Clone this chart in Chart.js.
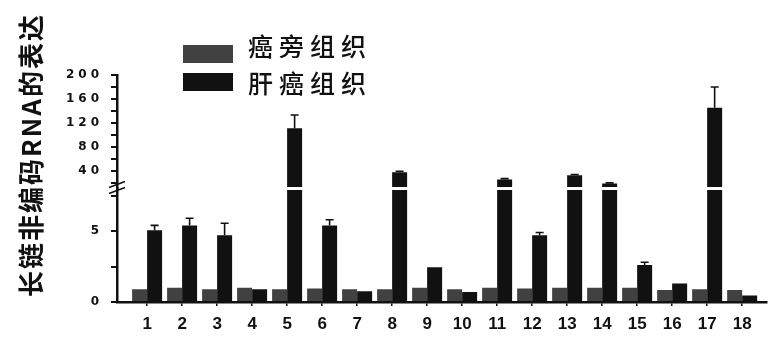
<!DOCTYPE html>
<html>
<head>
<meta charset="utf-8">
<script src="https://cdn.jsdelivr.net/npm/chart.js@4.4.0/dist/chart.umd.min.js"></script>
<style>
  html, body { margin: 0; padding: 0; background: #ffffff; }
  #wrap { width: 773px; height: 354px; }
</style>
</head>
<body>
<div id="wrap"><canvas id="chart" width="773" height="354"></canvas></div>
<script>
// Sample numbers shown on the x axis
const categories = ['1','2','3','4','5','6','7','8','9','10','11','12','13','14','15','16','17','18'];

// Series names (legend)
const seriesNames = ['癌旁组织', '肝癌组织'];

// Relative expression, adjacent non-tumour tissue
const adjacentTissue = [0.9, 1.0, 0.9, 1.0, 0.9, 0.95, 0.9, 0.9, 1.0, 0.9, 1.0, 0.95, 1.0, 1.0, 1.0, 0.85, 0.9, 0.85];
// Relative expression, liver cancer tissue
const tumorTissue = [5.05, 5.4, 4.7, 0.9, 111, 5.4, 0.75, 37, 2.45, 0.7, 25, 4.7, 32, 18.5, 2.6, 1.3, 145, 0.45];
// Upper error (SD) of the liver cancer series
const tumorError = [0.35, 0.5, 0.85, 0, 22, 0.4, 0, 2, 0, 0, 1.5, 0.2, 1.5, 1, 0.2, 0, 35, 0];

// Broken y axis: lower segment 0–8, upper segment 10–200
const lowerRange = [0, 8];
const upperRange = [10, 200];
const lowerTicks = [0, 2.5, 5, 7.5];
const lowerTickLabels = [0, 5];
const upperTicks = [20, 40, 60, 80, 100, 120, 140, 160, 180, 200];
const upperTickLabels = [40, 80, 120, 160, 200];

const axisTitle = '长链非编码RNA的表达';

const COLORS = ['#414141', '#111111'];
const INK = '#111111';

// Portions of each bar that fall in the lower and the upper segment
const lowerPart = vals => vals.map(v => Math.min(v, lowerRange[1]));
const upperPart = vals => vals.map(v => (v > upperRange[0] ? [upperRange[0], v] : null));

const barCommon = { borderWidth: 0, categoryPercentage: 0.857, barPercentage: 1.0 };

const datasets = [
  Object.assign({ label: seriesNames[0], data: lowerPart(adjacentTissue), yAxisID: 'yLow', stack: 'adj', backgroundColor: COLORS[0] }, barCommon),
  Object.assign({ label: seriesNames[1], data: lowerPart(tumorTissue), yAxisID: 'yLow', stack: 'tum', backgroundColor: COLORS[1] }, barCommon),
  Object.assign({ label: seriesNames[0], data: upperPart(adjacentTissue), yAxisID: 'yHigh', stack: 'adj', backgroundColor: COLORS[0] }, barCommon),
  Object.assign({ label: seriesNames[1], data: upperPart(tumorTissue), yAxisID: 'yHigh', stack: 'tum', backgroundColor: COLORS[1] }, barCommon)
];

function yScaleOptions(range, tickValues, labelValues) {
  return {
    type: 'linear',
    position: 'left',
    stack: 'yaxis',
    stackWeight: 1,
    stacked: false,
    min: range[0],
    max: range[1],
    afterBuildTicks: s => { s.ticks = tickValues.map(v => ({ value: v })); },
    afterFit: s => { s.width = 70; },
    ticks: {
      autoSkip: false,
      padding: 8,
      color: INK,
      font: { family: 'DejaVu Sans', size: 12, weight: 'bold' },
      callback: v => (labelValues.includes(v) ? String(v) : '')
    },
    grid: { drawOnChartArea: false, drawTicks: true, tickLength: 6, color: INK, lineWidth: 2 },
    border: { display: true, color: INK, width: 2.5 }
  };
}

// Wider letter spacing for the y tick numbers
const spacedYLabels = {
  id: 'spacedYLabels',
  beforeDraw(chart) {
    ['yLow', 'yHigh'].forEach(id => {
      const s = chart.scales[id];
      if (s && !s.__spaced) {
        const orig = s.drawLabels;
        s.drawLabels = function (area) {
          const ctx = this.ctx;
          ctx.save();
          ctx.letterSpacing = '4px';
          orig.call(this, area);
          ctx.restore();
        };
        s.__spaced = true;
      }
    });
  }
};

// Axis break, error bars, legend and y title
const breakAndErrors = {
  id: 'breakAndErrors',
  afterDatasetsDraw(chart) {
    const ctx = chart.ctx;
    const area = chart.chartArea;
    const low = chart.scales.yLow;
    const high = chart.scales.yHigh;
    const yb = low.top;

    // white gap through the bars at the break
    ctx.save();
    ctx.fillStyle = '#ffffff';
    ctx.fillRect(area.left + 2, yb - 1.5, area.right - area.left, 3);
    ctx.restore();

    // error bars on the cancer series
    const meta = chart.getDatasetMeta(1);
    ctx.save();
    ctx.strokeStyle = INK;
    ctx.lineWidth = 1.6;
    tumorTissue.forEach((v, i) => {
      const e = tumorError[i];
      if (!e) return;
      const scale = v > lowerRange[1] ? high : low;
      const x = meta.data[i].x;
      const y1 = scale.getPixelForValue(v);
      const y2 = scale.getPixelForValue(v + e);
      ctx.beginPath();
      ctx.moveTo(x, y1);
      ctx.lineTo(x, y2);
      ctx.moveTo(x - 4, y2);
      ctx.lineTo(x + 4, y2);
      ctx.stroke();
    });
    ctx.restore();

    // break marks on the y axis
    const ax = area.left;
    ctx.save();
    ctx.strokeStyle = INK;
    ctx.lineWidth = 1.5;
    ctx.beginPath();
    ctx.moveTo(ax - 8, yb - 1);
    ctx.lineTo(ax + 8, yb - 7);
    ctx.moveTo(ax - 8, yb + 5);
    ctx.lineTo(ax + 8, yb - 1);
    ctx.stroke();
    ctx.restore();
  },
  afterDraw(chart) {
    const ctx = chart.ctx;

    // legend
    const boxes = [{ y: 45, ty: 46 }, { y: 73, ty: 83 }];
    ctx.save();
    ctx.font = '500 25px "Noto Sans CJK SC"';
    ctx.textBaseline = 'middle';
    ctx.textAlign = 'left';
    ctx.letterSpacing = '6px';
    seriesNames.forEach((name, k) => {
      ctx.fillStyle = COLORS[k];
      ctx.fillRect(183, boxes[k].y, 50, 18);
      ctx.fillStyle = INK;
      ctx.fillText(name, 248, boxes[k].ty);
    });
    ctx.restore();

    // y axis title
    ctx.save();
    ctx.translate(31, 155);
    ctx.rotate(-Math.PI / 2);
    ctx.font = 'bold 26px "Noto Sans CJK SC"';
    ctx.letterSpacing = '2px';
    ctx.fillStyle = INK;
    ctx.textAlign = 'center';
    ctx.textBaseline = 'middle';
    ctx.fillText(axisTitle, 0, 0);
    ctx.restore();
  }
};

new Chart(document.getElementById('chart'), {
  type: 'bar',
  data: { labels: categories, datasets },
  plugins: [spacedYLabels, breakAndErrors],
  options: {
    responsive: false,
    animation: false,
    devicePixelRatio: 1,
    layout: { padding: { left: 47, right: 6, top: 75, bottom: 0 } },
    plugins: { legend: { display: false }, tooltip: { enabled: false } },
    scales: {
      x: {
        type: 'linear',
        offset: false,
        min: 0.14,
        max: 18.71,
        afterBuildTicks: s => { s.ticks = categories.map(c => ({ value: Number(c) })); },
        afterFit: s => { s.height = 52; },
        ticks: {
          autoSkip: false,
          maxRotation: 0,
          padding: 8,
          color: INK,
          font: { family: 'Liberation Sans', size: 17, weight: 'bold' },
          callback: v => categories[categories.indexOf(String(v))]
        },
        grid: { display: true, offset: false, drawOnChartArea: false, drawTicks: true, tickLength: 4, color: INK, lineWidth: 1.5 },
        border: { display: true, color: INK, width: 2.5 }
      },
      yLow: yScaleOptions(lowerRange, lowerTicks, lowerTickLabels),
      yHigh: yScaleOptions(upperRange, upperTicks, upperTickLabels)
    }
  }
});
</script>
</body>
</html>
